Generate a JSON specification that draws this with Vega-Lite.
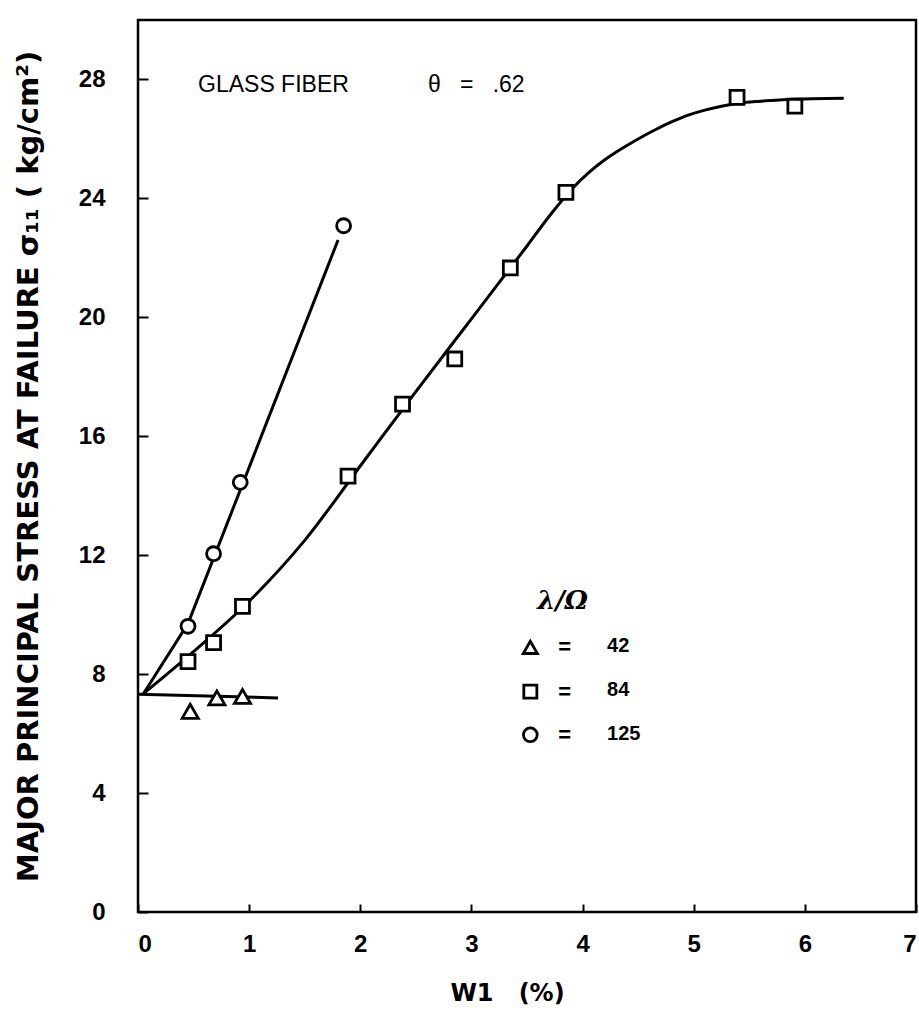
{
  "$schema": "https://vega.github.io/schema/vega-lite/v6.json",
  "width": 778,
  "height": 892,
  "autosize": {"type": "none"},
  "padding": {"left": 138, "top": 20, "right": 3, "bottom": 98},
  "background": "white",
  "config": {
    "view": {"stroke": "black", "strokeWidth": 2.5},
    "font": "Liberation Sans",
    "axis": {
      "domain": false, "tickColor": "black", "tickWidth": 2,
      "labelColor": "black", "titleColor": "black", "grid": false,
      "labelFont": "Liberation Sans", "labelFontSize": 24, "labelFontWeight": "bold",
      "titleFont": "DejaVu Sans", "titleFontWeight": "bold", "titleFontSize": 24
    },
    "text": {"color": "black"}
  },
  "datasets": {
    "points": [
      {"x": 0.47, "y": 6.75, "series": "42"},
      {"x": 0.71, "y": 7.2, "series": "42"},
      {"x": 0.94, "y": 7.25, "series": "42"},
      {"x": 0.45, "y": 8.42, "series": "84"},
      {"x": 0.68, "y": 9.06, "series": "84"},
      {"x": 0.94, "y": 10.28, "series": "84"},
      {"x": 1.89, "y": 14.66, "series": "84"},
      {"x": 2.38, "y": 17.08, "series": "84"},
      {"x": 2.85, "y": 18.6, "series": "84"},
      {"x": 3.35, "y": 21.66, "series": "84"},
      {"x": 3.85, "y": 24.2, "series": "84"},
      {"x": 5.39, "y": 27.4, "series": "84"},
      {"x": 5.91, "y": 27.1, "series": "84"},
      {"x": 0.45, "y": 9.61, "series": "125"},
      {"x": 0.68, "y": 12.05, "series": "125"},
      {"x": 0.92, "y": 14.45, "series": "125"},
      {"x": 1.85, "y": 23.08, "series": "125"}
    ],
    "straight": [
      {"x": 0.0, "y": 7.32, "series": "42"},
      {"x": 1.26, "y": 7.2, "series": "42"},
      {"x": 0.05, "y": 7.35, "series": "125"},
      {"x": 0.45, "y": 9.7, "series": "125"},
      {"x": 1.8, "y": 22.6, "series": "125"}
    ],
    "curve": [
      {"x": 0.05, "y": 7.35, "series": "84"},
      {"x": 0.45, "y": 8.6, "series": "84"},
      {"x": 1.0, "y": 10.45, "series": "84"},
      {"x": 1.5, "y": 12.5, "series": "84"},
      {"x": 2.0, "y": 15.0, "series": "84"},
      {"x": 2.5, "y": 17.5, "series": "84"},
      {"x": 3.0, "y": 19.95, "series": "84"},
      {"x": 3.5, "y": 22.4, "series": "84"},
      {"x": 3.7, "y": 23.4, "series": "84"},
      {"x": 3.9, "y": 24.3, "series": "84"},
      {"x": 4.05, "y": 24.85, "series": "84"},
      {"x": 4.2, "y": 25.3, "series": "84"},
      {"x": 4.35, "y": 25.67, "series": "84"},
      {"x": 4.5, "y": 26.0, "series": "84"},
      {"x": 4.65, "y": 26.3, "series": "84"},
      {"x": 4.8, "y": 26.57, "series": "84"},
      {"x": 4.95, "y": 26.8, "series": "84"},
      {"x": 5.1, "y": 26.97, "series": "84"},
      {"x": 5.25, "y": 27.1, "series": "84"},
      {"x": 5.4, "y": 27.2, "series": "84"},
      {"x": 5.6, "y": 27.27, "series": "84"},
      {"x": 5.85, "y": 27.33, "series": "84"},
      {"x": 6.35, "y": 27.37, "series": "84"}
    ]
  },
  "layer": [
    {
      "data": {"name": "curve"},
      "mark": {"type": "line", "color": "black", "strokeWidth": 3, "interpolate": "monotone"},
      "encoding": {
        "x": {"field": "x", "type": "quantitative", "title": "W1\u00a0\u00a0\u00a0(%)",
          "scale": {"domain": [0, 7], "nice": false, "zero": false},
          "axis": {"values": [0, 1, 2, 3, 4, 5, 6, 7], "format": "d", "offset": -8, "tickSize": 8, "labelPadding": 20,
            "titleX": 369, "titleY": 89, "titleBaseline": "middle", "titleAlign": "center"}},
        "y": {"field": "y", "type": "quantitative", "title": "MAJOR PRINCIPAL STRESS AT FAILURE σ₁₁ ( kg/cm²)",
          "scale": {"domain": [0, 30], "nice": false},
          "axis": {"values": [0, 4, 8, 12, 16, 20, 24, 28], "format": "d", "offset": -10, "tickSize": 10, "labelPadding": 33,
            "titleX": -120, "titleY": 446, "titleAngle": -90, "titleBaseline": "middle", "titleAlign": "center", "titleFontSize": 29}},
        "order": {"field": "x"}
      }
    },
    {
      "data": {"name": "straight"},
      "mark": {"type": "line", "color": "black", "strokeWidth": 3, "interpolate": "linear"},
      "encoding": {
        "x": {"field": "x", "type": "quantitative", "title": "W1\u00a0\u00a0\u00a0(%)"},
        "y": {"field": "y", "type": "quantitative", "title": "MAJOR PRINCIPAL STRESS AT FAILURE σ₁₁ ( kg/cm²)"},
        "detail": {"field": "series"},
        "order": {"field": "x"}
      }
    },
    {
      "data": {"name": "points"},
      "transform": [{"filter": "datum.series != '42'"}],
      "mark": {"type": "point", "filled": false, "fill": "white", "fillOpacity": 1, "stroke": "black", "strokeWidth": 2.8, "opacity": 1, "size": 195},
      "encoding": {
        "x": {"field": "x", "type": "quantitative", "title": "W1\u00a0\u00a0\u00a0(%)"},
        "y": {"field": "y", "type": "quantitative", "title": "MAJOR PRINCIPAL STRESS AT FAILURE σ₁₁ ( kg/cm²)"},
        "shape": {"field": "series", "type": "nominal", "legend": null,
          "scale": {"domain": ["42", "84", "125"], "range": ["triangle-up", "square", "circle"]}}
      }
    },
    {
      "data": {"name": "points"},
      "transform": [{"filter": "datum.series == '42'"}],
      "mark": {"type": "point", "filled": false, "fill": "white", "fillOpacity": 1, "stroke": "black", "strokeWidth": 2.8, "opacity": 1, "size": 260},
      "encoding": {
        "x": {"field": "x", "type": "quantitative", "title": "W1\u00a0\u00a0\u00a0(%)"},
        "y": {"field": "y", "type": "quantitative", "title": "MAJOR PRINCIPAL STRESS AT FAILURE σ₁₁ ( kg/cm²)"},
        "shape": {"field": "series", "type": "nominal", "legend": null}
      }
    },
    {
      "data": {"values": [{}]},
      "mark": {"type": "text", "font": "Liberation Sans", "fontSize": 23, "align": "left", "baseline": "middle"},
      "encoding": {"x": {"datum": 0.54}, "y": {"datum": 27.83}, "text": {"value": "GLASS FIBER"}}
    },
    {
      "data": {"values": [{}]},
      "mark": {"type": "text", "font": "Liberation Sans", "fontSize": 23, "align": "left", "baseline": "middle"},
      "encoding": {"x": {"datum": 2.61}, "y": {"datum": 27.83}, "text": {"value": "θ\u00a0\u00a0\u00a0=\u00a0\u00a0\u00a0.62"}}
    },
    {
      "data": {"values": [{}]},
      "mark": {"type": "text", "font": "DejaVu Serif", "fontStyle": "italic", "fontWeight": "bold", "fontSize": 26, "align": "center", "baseline": "middle"},
      "encoding": {"x": {"datum": 3.82}, "y": {"datum": 10.45}, "text": {"value": "λ/Ω"}}
    },
    {
      "data": {"values": [{}]},
      "mark": {"type": "point", "shape": "triangle-up", "filled": false, "fill": "white", "stroke": "black", "strokeWidth": 2.8, "opacity": 1, "size": 200},
      "encoding": {"x": {"datum": 3.53}, "y": {"datum": 8.9}}
    },
    {
      "data": {"values": [{}]},
      "mark": {"type": "point", "shape": "square", "filled": false, "fill": "white", "stroke": "black", "strokeWidth": 2.8, "opacity": 1, "size": 170},
      "encoding": {"x": {"datum": 3.53}, "y": {"datum": 7.41}}
    },
    {
      "data": {"values": [{}]},
      "mark": {"type": "point", "shape": "circle", "filled": false, "fill": "white", "stroke": "black", "strokeWidth": 2.8, "opacity": 1, "size": 190},
      "encoding": {"x": {"datum": 3.53}, "y": {"datum": 5.96}}
    },
    {
      "data": {"values": [{}]},
      "mark": {"type": "text", "font": "Liberation Sans", "fontWeight": "bold", "fontSize": 22, "align": "center", "baseline": "middle"},
      "encoding": {"x": {"datum": 3.84}, "y": {"datum": 8.9}, "text": {"value": "="}}
    },
    {
      "data": {"values": [{}]},
      "mark": {"type": "text", "font": "Liberation Sans", "fontWeight": "bold", "fontSize": 22, "align": "center", "baseline": "middle"},
      "encoding": {"x": {"datum": 3.84}, "y": {"datum": 7.41}, "text": {"value": "="}}
    },
    {
      "data": {"values": [{}]},
      "mark": {"type": "text", "font": "Liberation Sans", "fontWeight": "bold", "fontSize": 22, "align": "center", "baseline": "middle"},
      "encoding": {"x": {"datum": 3.84}, "y": {"datum": 5.96}, "text": {"value": "="}}
    },
    {
      "data": {"values": [{}]},
      "mark": {"type": "text", "font": "Liberation Sans", "fontWeight": "bold", "fontSize": 20, "align": "left", "baseline": "middle"},
      "encoding": {"x": {"datum": 4.22}, "y": {"datum": 8.95}, "text": {"value": "42"}}
    },
    {
      "data": {"values": [{}]},
      "mark": {"type": "text", "font": "Liberation Sans", "fontWeight": "bold", "fontSize": 20, "align": "left", "baseline": "middle"},
      "encoding": {"x": {"datum": 4.22}, "y": {"datum": 7.45}, "text": {"value": "84"}}
    },
    {
      "data": {"values": [{}]},
      "mark": {"type": "text", "font": "Liberation Sans", "fontWeight": "bold", "fontSize": 20, "align": "left", "baseline": "middle"},
      "encoding": {"x": {"datum": 4.22}, "y": {"datum": 6.0}, "text": {"value": "125"}}
    }
  ]
}
